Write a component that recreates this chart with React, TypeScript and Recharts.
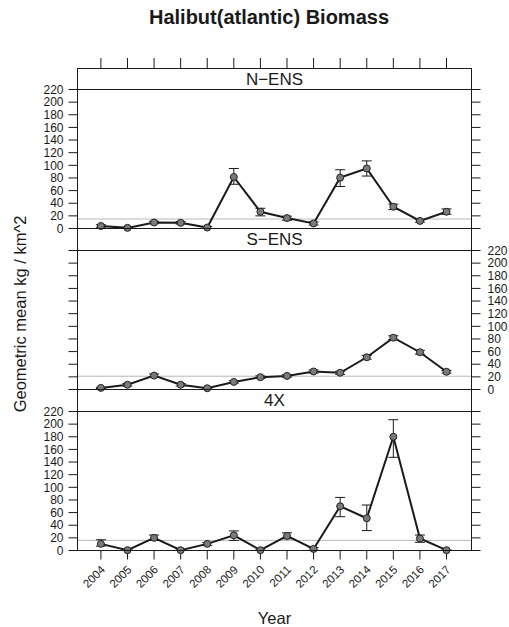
import { LineChart, Line, XAxis, YAxis, ErrorBar, ReferenceLine } from "recharts";

const years = [2004, 2005, 2006, 2007, 2008, 2009, 2010, 2011, 2012, 2013, 2014, 2015, 2016, 2017];
const yTicks = [0, 20, 40, 60, 80, 100, 120, 140, 160, 180, 200, 220];

// N-ENS
const nensMean = [4, 1, 9.5, 9, 1.5, 81.5, 26.5, 16.5, 8, 80.5, 95, 34.5, 12, 26.5];
const nensLow = [2, 0, 7.5, 7, 0, 70, 20, 13, 5.5, 66.5, 83, 30, 10, 22.5];
const nensHigh = [6, 2, 11.5, 11, 3, 95, 32, 19.5, 10.5, 93, 107, 38.5, 14, 31];

// S-ENS
const sensMean = [2.5, 7.5, 22, 7.5, 2, 12, 19.5, 21.5, 28.5, 26.5, 51, 82, 59, 28];
const sensLow = [1.5, 5.5, 19.5, 5.5, 1, 10, 17.5, 19.5, 26, 24, 48, 79, 56, 26];
const sensHigh = [3.5, 9.5, 24.5, 9.5, 3, 14, 21.5, 23.5, 31, 29, 54, 85, 62, 30];

// 4X
const x4Mean = [10.5, 0.5, 20, 0.5, 10.5, 24, 0.5, 23, 2.5, 70, 51, 180, 19, 0.5];
const x4Low = [7, 0, 16, 0, 8, 16, 0, 18.5, 0.5, 53.5, 31.5, 147.5, 13, 0];
const x4High = [17, 1, 24.5, 1, 12.5, 31, 1, 28, 4.5, 84, 72, 207, 24.5, 1];

const panelNames = ["N\u2212ENS", "S\u2212ENS", "4X"];
const refLevels = [15, 21, 16];

const toRows = (mean: number[], lo: number[], hi: number[]) =>
  years.map((year, i) => ({ year, value: mean[i], err: [mean[i] - lo[i], hi[i] - mean[i]] }));

const panels = [
  toRows(nensMean, nensLow, nensHigh),
  toRows(sensMean, sensLow, sensHigh),
  toRows(x4Mean, x4Low, x4High),
];

const W = 509;
const H = 627;
const L = 77; // pixel column of left frame
const FW = 395; // frame width in px
const FRAME_TOP = 68;
const panelRows = [89, 250, 411]; // pixel rows of panel top borders
const PANEL_H = 139;
const stripRows = [68, 228, 389];
const xDomain = [2003.12, 2017.94];
const ink = "#1a1a1a";

const TopTick = (props: any) => (
  <line x1={props.x} x2={props.x} y1={FRAME_TOP - 10} y2={FRAME_TOP} stroke={ink} strokeWidth={1} />
);

const BottomTick = (props: any) => {
  const x = props.x + 2;
  const y = props.y + 6;
  return (
    <text x={x} y={y} transform={`rotate(-45 ${x} ${y})`} textAnchor="end" dy="0.35em" fontSize={11.5} fill={ink}>
      {props.payload.value}
    </text>
  );
};

const NoLabel = () => <g />;

const Panel = ({ idx }: { idx: number }) => {
  const top = panelRows[idx] + 0.5;
  const bottom = top + PANEL_H;
  const isTop = idx === 0;
  const isBottom = idx === 2;
  const leftLabels = idx !== 1;
  const tickStyle = { fontSize: 12, fill: ink };
  return (
    <div style={{ position: "absolute", left: 0, top: 0 }}>
      <LineChart
        width={W}
        height={H}
        data={panels[idx]}
        margin={{
          top: isTop ? top - 30 : top,
          bottom: isBottom ? H - bottom - 45 : H - bottom,
          left: L + 0.5 - 40,
          right: W - (L + FW - 0.5) - 37,
        }}
      >
        <XAxis
          dataKey="year"
          type="number"
          domain={xDomain}
          ticks={years}
          interval={0}
          hide={!isTop && !isBottom}
          orientation={isTop ? "top" : "bottom"}
          height={isTop ? 30 : 45}
          axisLine={false}
          tickLine={isBottom ? { stroke: ink } : false}
          tickSize={9}
          tickMargin={2}
          tick={isTop ? <TopTick /> : <BottomTick />}
        />
        <YAxis
          yAxisId="l"
          domain={[0, 220]}
          ticks={yTicks}
          interval={0}
          width={40}
          axisLine={false}
          tickLine={{ stroke: ink }}
          tickSize={9}
          tickMargin={5}
          tick={leftLabels ? tickStyle : <NoLabel />}
        />
        <YAxis
          yAxisId="r"
          orientation="right"
          domain={[0, 220]}
          ticks={yTicks}
          interval={0}
          width={37}
          axisLine={false}
          tickLine={{ stroke: ink }}
          tickSize={9}
          tickMargin={7}
          tick={!leftLabels ? tickStyle : <NoLabel />}
        />
        <ReferenceLine yAxisId="l" y={refLevels[idx]} stroke="#b8b8b8" strokeWidth={1} />
        {/* invisible twin so the right-hand axis gets its scale */}
        <Line
          yAxisId="r"
          dataKey="value"
          stroke="none"
          dot={false}
          activeDot={false}
          legendType="none"
          isAnimationActive={false}
        />
        <Line
          yAxisId="l"
          dataKey="value"
          stroke={ink}
          strokeWidth={2}
          dot={{ r: 3.5, fill: "#7a7a7a", stroke: "#222", strokeWidth: 1 }}
          isAnimationActive={false}
        >
          <ErrorBar dataKey="err" direction="y" width={5} stroke={ink} strokeWidth={1} />
        </Line>
      </LineChart>
    </div>
  );
};

const hline = (row: number) => ({
  position: "absolute" as const,
  left: L,
  top: row,
  width: FW,
  height: 1,
  background: ink,
});

export default function App() {
  const lineRows = [panelRows[0], stripRows[1], panelRows[1], stripRows[2], panelRows[2]];
  return (
    <div
      style={{
        position: "absolute",
        left: 0,
        top: 0,
        width: W,
        height: H,
        background: "#fff",
        fontFamily: "'Liberation Sans', Arial, sans-serif",
        color: ink,
      }}
    >
      <div
        style={{
          position: "absolute",
          left: 69,
          top: 7,
          width: 400,
          textAlign: "center",
          fontSize: 20,
          fontWeight: "bold",
          lineHeight: "20px",
        }}
      >
        Halibut(atlantic) Biomass
      </div>
      {[0, 1, 2].map((i) => (
        <Panel key={i} idx={i} />
      ))}
      <div
        style={{
          position: "absolute",
          left: L,
          top: FRAME_TOP,
          width: FW,
          height: panelRows[2] + PANEL_H + 1 - FRAME_TOP,
          border: `1px solid ${ink}`,
          boxSizing: "border-box",
          pointerEvents: "none",
        }}
      />
      {lineRows.map((r, i) => (
        <div key={"h" + i} style={hline(r)} />
      ))}
      {stripRows.map((t, i) => (
        <div
          key={"s" + i}
          style={{
            position: "absolute",
            left: L,
            top: t + 1,
            width: FW,
            height: panelRows[i] - t - 1,
            display: "flex",
            alignItems: "center",
            justifyContent: "center",
            fontSize: 17,
            paddingTop: 1,
            boxSizing: "border-box",
          }}
        >
          {panelNames[i]}
        </div>
      ))}
      <div
        style={{
          position: "absolute",
          left: 20 - 150,
          top: 314 - 10,
          width: 300,
          height: 20,
          lineHeight: "20px",
          textAlign: "center",
          fontSize: 16.5,
          transform: "rotate(-90deg)",
        }}
      >
        Geometric mean kg / km^2
      </div>
      <div
        style={{
          position: "absolute",
          left: L,
          top: 609,
          width: FW,
          textAlign: "center",
          fontSize: 16.5,
          lineHeight: "18px",
        }}
      >
        Year
      </div>
    </div>
  );
}
